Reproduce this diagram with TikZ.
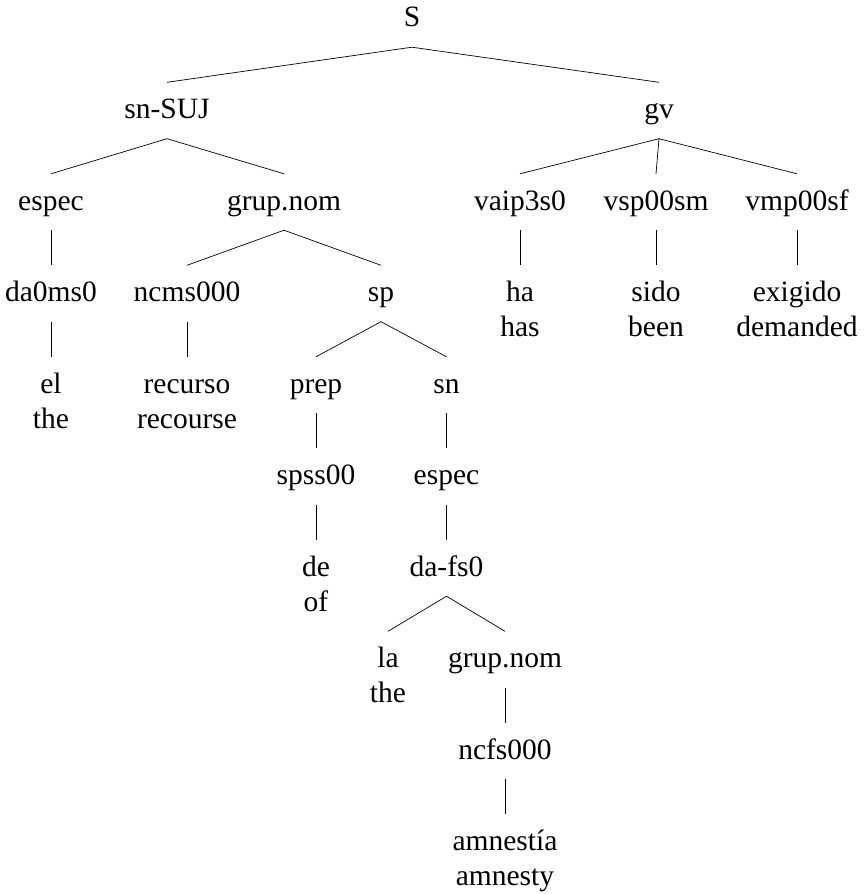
\documentclass[tikz,border=0pt]{standalone}
\usepackage{fontspec}
\setmainfont{Liberation Serif}
\begin{document}
\begin{tikzpicture}[x=1pt,y=-1pt,
  lab/.style={inner sep=0pt, anchor=base, text height=36pt, text depth=20pt, font=\fontsize{29.5}{35}\selectfont},
  gl/.style={inner sep=0pt, anchor=base, font=\fontsize{29.5}{35}\selectfont},
  edge/.style={line width=0.7pt, black}]
\useasboundingbox (0,0) rectangle (864,894);
% rows: baselines
\node[lab] (S) at (412,27) {S};
\node[lab] (snsuj) at (167,118.5) {sn-SUJ};
\node[lab] (gv) at (659,118.5) {gv};
\node[lab] (espec) at (51,210) {espec};
\node[lab] (grupnom) at (284,210) {grup.nom};
\node[lab] (vaip) at (520,210) {vaip3s0};
\node[lab] (vsp) at (656,210) {vsp00sm};
\node[lab] (vmp) at (797,210) {vmp00sf};
\node[lab] (da0) at (51,301.5) {da0ms0};
\node[lab] (ncms) at (187,301.5) {ncms000};
\node[lab] (sp) at (381,301.5) {sp};
\node[lab] (ha) at (520,301.5) {ha};
\node[gl] (has) at (520,336.5) {has};
\node[lab] (sido) at (656,301.5) {sido};
\node[gl] (been) at (656,336.5) {been};
\node[lab] (exig) at (797,301.5) {exigido};
\node[gl] (dem) at (797,336.5) {demanded};
\node[lab] (el) at (51,393) {el};
\node[gl] (the1) at (51,428) {the};
\node[lab] (recurso) at (187,393) {recurso};
\node[gl] (recourse) at (187,428) {recourse};
\node[lab] (prep) at (316,393) {prep};
\node[lab] (sn) at (446.5,393) {sn};
\node[lab] (spss) at (316,484.5) {spss00};
\node[lab] (espec2) at (446.5,484.5) {espec};
\node[lab] (de) at (316,576) {de};
\node[gl] (of) at (316,611) {of};
\node[lab] (dafs) at (446.5,576) {da-fs0};
\node[lab] (la) at (388,667.5) {la};
\node[gl] (the2) at (388,702.5) {the};
\node[lab] (grupnom2) at (505,667.5) {grup.nom};
\node[lab] (ncfs) at (505,759) {ncfs000};
\node[lab] (amn) at (505,850.5) {amnestía};
\node[gl] (amny) at (505,885.5) {amnesty};
% edges
\draw[edge] (S.south) -- (snsuj.north);
\draw[edge] (S.south) -- (gv.north);
\draw[edge] (snsuj.south) -- (espec.north);
\draw[edge] (snsuj.south) -- (grupnom.north);
\draw[edge] (gv.south) -- (vaip.north);
\draw[edge] (gv.south) -- (vsp.north);
\draw[edge] (gv.south) -- (vmp.north);
\draw[edge] (espec.south) -- (da0.north);
\draw[edge] (grupnom.south) -- (ncms.north);
\draw[edge] (grupnom.south) -- (sp.north);
\draw[edge] (vaip.south) -- (ha.north);
\draw[edge] (vsp.south) -- (sido.north);
\draw[edge] (vmp.south) -- (exig.north);
\draw[edge] (da0.south) -- (el.north);
\draw[edge] (ncms.south) -- (recurso.north);
\draw[edge] (sp.south) -- (prep.north);
\draw[edge] (sp.south) -- (sn.north);
\draw[edge] (prep.south) -- (spss.north);
\draw[edge] (sn.south) -- (espec2.north);
\draw[edge] (spss.south) -- (de.north);
\draw[edge] (espec2.south) -- (dafs.north);
\draw[edge] (dafs.south) -- (la.north);
\draw[edge] (dafs.south) -- (grupnom2.north);
\draw[edge] (grupnom2.south) -- (ncfs.north);
\draw[edge] (ncfs.south) -- (amn.north);
\end{tikzpicture}
\end{document}
